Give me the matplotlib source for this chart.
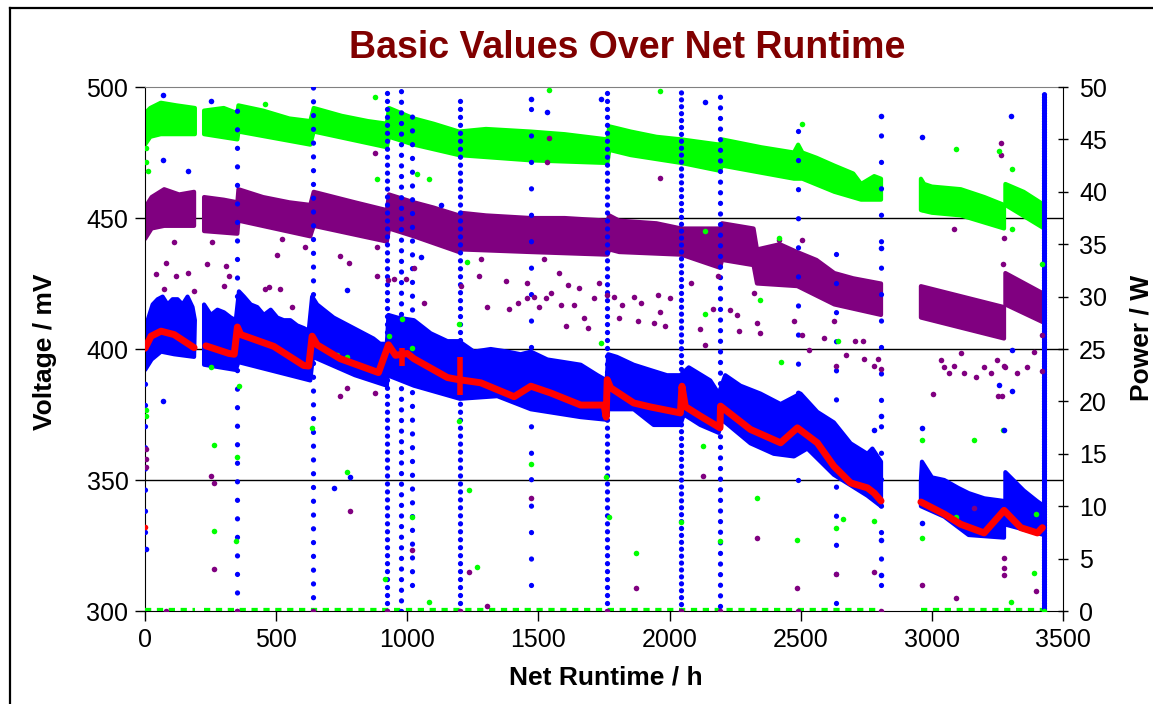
import matplotlib.pyplot as plt
from matplotlib.lines import Line2D

plt.rcParams['font.family'] = ['Liberation Sans', 'DejaVu Sans']

# Voltage clouds per running segment, outlined by their upper and lower edge (hours, mV)
green_top_t = [[0, 20, 60, 120, 190],
               [225, 300, 352, 356, 450, 550, 630, 643, 750, 850, 922, 930, 1025, 1100, 1197,
                1300, 1471, 1600, 1763, 1770, 1852, 1950, 2045, 2192, 2200, 2350, 2474, 2490,
                2506, 2560, 2628, 2700, 2730, 2780, 2806],
               [2958, 2970, 3000, 3110, 3200, 3275],
               [3280, 3350, 3428]]
green_top_v = [[490, 492, 494, 493, 492],
               [491, 492, 490, 493, 491, 488, 487, 492, 489, 487, 486, 492, 488, 486, 483,
                484, 483, 482, 480, 485, 483, 481, 480, 478, 480, 477, 475, 478,
                475, 473, 470, 467, 463, 466, 465],
               [465, 463, 462, 461, 458, 455],
               [463, 460, 455]]
green_bot_t = [[0, 20, 60, 190],
               [225, 352, 356, 630, 643, 922, 930, 1025, 1197, 1471, 1763, 1770, 1852, 2045,
                2192, 2200, 2474, 2506, 2628, 2730, 2806],
               [2958, 3000, 3110, 3275],
               [3280, 3428]]
green_bot_v = [[478, 481, 482, 482],
               [482, 480, 483, 478, 483, 477, 481, 478, 474, 472, 471, 476, 474, 471,
                468, 470, 465, 465, 460, 457, 457],
               [453, 452, 451, 446],
               [455, 446]]

purple_top_t = [[0, 25, 73, 130, 187],
                [225, 300, 352, 356, 450, 550, 630, 643, 800, 922, 930, 1025, 1100, 1197,
                 1204, 1300, 1471, 1600, 1763, 1770, 1808, 1950, 2045, 2192, 2200, 2320,
                 2333, 2420, 2487, 2560, 2628, 2700, 2806],
                [2958, 3275],
                [3280, 3428]]
purple_top_v = [[454, 458, 461, 459, 460],
                [458, 457, 456, 461, 458, 456, 455, 460, 456, 453, 459, 456, 454, 451,
                 452, 451, 450, 450, 449, 451, 449, 448, 446, 446, 448, 446,
                 438, 440, 437, 434, 429, 427, 425],
                [424, 416],
                [429, 421]]
purple_bot_t = [[0, 25, 73, 187],
                [225, 352, 356, 630, 643, 922, 930, 1025, 1197, 1204, 1471, 1763, 1770, 1808,
                 2045, 2192, 2200, 2320, 2333, 2487, 2628, 2806],
                [2958, 3275],
                [3280, 3428]]
purple_bot_v = [[442, 446, 447, 447],
                [445, 444, 449, 443, 447, 441, 446, 443, 437, 438, 437, 436, 438, 437,
                 436, 431, 434, 432, 425, 424, 417, 413],
                [412, 404],
                [417, 410]]

blue_top_t = [[0, 10, 29, 48, 67, 86, 105, 124, 143, 162, 181, 190],
              [225, 251, 276, 301, 327, 346, 358, 377, 403, 428, 453, 479, 504, 529, 554,
               580, 605, 624, 637, 656, 681, 719, 757, 795, 833, 871, 896, 922, 928, 962,
               1025, 1089, 1153, 1197, 1254, 1318, 1382, 1432, 1471, 1534, 1598, 1661,
               1725, 1760, 1766, 1799, 1863, 1926, 1990, 2041, 2073, 2155, 2187, 2212,
               2270, 2346, 2423, 2499, 2563, 2626, 2690, 2754, 2773, 2806],
              [2958, 2962, 3000, 3047, 3100, 3140, 3200, 3275],
              [3280, 3300, 3350, 3400, 3428]]
blue_top_v = [[408, 411, 417, 419, 420, 417, 419, 419, 417, 420, 416, 411],
              [417, 413, 415, 414, 412, 411, 422, 420, 417, 416, 413, 415, 412, 411, 411,
               409, 408, 407, 420, 417, 415, 412, 410, 408, 406, 404, 402, 402, 413, 412,
               411, 406, 403, 403, 399, 400, 399, 398, 399, 396, 395, 394,
               390, 388, 398, 397, 394, 392, 390, 390, 393, 388, 383, 390,
               386, 383, 379, 383, 376, 372, 364, 360, 362, 357],
              [350, 357, 351, 350, 347, 345, 343, 342],
              [353, 351, 346, 342, 340]]
blue_bot_t = [[0, 25, 61, 111, 187],
              [225, 346, 356, 630, 640, 800, 922, 924, 1025, 1200, 1343, 1471, 1661, 1760,
               1766, 1863, 1939, 2041, 2054, 2117, 2187, 2200, 2308, 2397, 2474, 2525,
               2626, 2690, 2754, 2806],
              [2958, 3047, 3140, 3275],
              [3280, 3428]]
blue_bot_v = [[392, 396, 399, 398, 397],
              [394, 392, 395, 388, 397, 390, 386, 390, 386, 381, 382, 377, 374, 373,
               377, 377, 371, 371, 375, 371, 368, 373, 364, 360, 359, 362,
               352, 348, 344, 340],
              [340, 336, 329, 328],
              [333, 329]]

# Mean voltage (red line)
red_t = [[0, 23, 61, 111, 187],
         [232, 320, 340, 352, 365, 491, 605, 624, 637, 656, 744, 890, 928, 955, 1000,
          1025, 1153, 1190, 1280, 1407, 1471, 1547, 1661, 1750, 1758, 1762, 1775, 1863,
          1926, 2041, 2047, 2060, 2117, 2192, 2194, 2308, 2423, 2487, 2563, 2626, 2690,
          2754, 2780, 2806],
         [2958, 3047, 3110, 3199, 3275, 3339, 3402, 3421]]
red_v = [[400.3, 404.9, 406.8, 405.5, 400.5],
         [401.2, 398.3, 398.0, 408.4, 405.5, 401.0, 393.7, 393.5, 404.9, 401.6, 396.3,
          391.0, 401.6, 397.6, 398.3, 396.3, 389.1, 388.4, 387.1, 381.8, 385.8, 383.2,
          378.6, 378.6, 374.0, 388.3, 385.2, 379.4, 377.9, 375.6, 385.8, 378.0, 374.4,
          369.9, 378.2, 369.3, 364.2, 369.9, 364.2, 355.3, 348.9, 347.0, 345.0, 342.0],
         [341.6, 337.0, 333.1, 329.8, 338.4, 331.8, 329.8, 331.8]]
red_spike_t = [981, 1200]
red_spike_lo = [393.7, 382.5]
red_spike_hi = [400.3, 397.0]

# Restart events: columns of blue readings
event_t = [0, 352, 640, 922, 975, 1019, 1200, 1471, 1763, 2045, 2192, 2490, 2634, 2806, 3428]
event_lo = [330, 300, 300, 300, 300, 310, 300, 310, 300, 300, 302, 350, 303, 310, 300]
event_hi = [392, 497, 500, 500, 500, 492, 495, 496, 500, 500, 500, 490, 443, 490, 498]

# Zero-power readings along the bottom
zero_start = [0, 225, 2958]
zero_end = [190, 2806, 3428]

purple_out_t = [111, 80, 42, 162, 118, 73, 187, 238, 308, 320, 301, 257, 459, 471, 516, 560,
                504, 523, 611, 744, 776, 744, 769, 877, 884, 877, 884, 928, 250, 263, 263,
                782, 949, 994, 1025, 1064, 1204, 1273, 1280, 1305, 1375, 1388, 1420, 1458,
                1458, 1483, 1502, 1522, 1528, 1547, 1579, 1585, 1611, 1636, 1655, 1674,
                1687, 1712, 1731, 1763, 1789, 1808, 1604, 1541, 1534, 1471, 1019, 1235,
                1305, 1962, 1865, 1820, 1891, 1955, 2000, 1878, 1942, 1981, 1962, 2083,
                2115, 2135, 2167, 2186, 2231, 2256, 2263, 2320, 2333, 2346, 2417, 2506,
                2474, 2506, 2590, 2628, 2634, 2673, 2705, 2737, 2532, 2128, 2333, 1872,
                2487, 2634, 2742, 2793, 2780, 2806, 2780, 3085, 3034, 3047, 3066, 3085,
                3110, 3123, 3168, 3199, 3224, 3250, 3275, 3253, 3267, 3280, 3326, 3364,
                3389, 3421, 3421, 3003, 2964, 3091, 3263, 3263, 3270, 3275, 3275, 3275,
                3275, 3396, 3161, 4, 4, 4, 352, 640, 922, 1200, 1763, 2045, 2192, 2490,
                2806, 80]
purple_out_v = [441, 433, 428.5, 429, 428, 423, 422, 432.5, 431.8, 428, 424, 441, 423,
                423.7, 423, 416, 436, 442, 438.8, 435.5, 432.9, 382, 385, 383.3, 428, 475,
                438.8, 426.3, 351.6, 349, 316, 338, 426.6, 426.6, 431, 417.4, 424, 428,
                434.5, 416, 426, 415.4, 417.4, 425.3, 419.3, 420, 416, 434.5, 419.3, 421.3,
                429.2, 416.7, 424.6, 416.7, 423.3, 412, 408.2, 419.3, 425.3, 420.7, 420,
                412, 408.8, 480.5, 471.3, 343, 323.3, 314.7, 302, 465.4, 420, 416.7, 417.4,
                420.7, 419.3, 410.8, 410, 408.8, 414, 425.3, 407.5, 401.6, 415.4, 427.9,
                414.7, 412.8, 406.8, 421.3, 410, 406.2, 441.7, 441.7, 410.8, 405.5, 404.2,
                410.8, 393.7, 397.6, 402.9, 402.9, 399.6, 351.6, 327.9, 308.8, 308.8, 314,
                396, 396, 393.7, 392.4, 315, 445.7, 395.7, 393, 391, 393.7, 398.3, 391,
                389.5, 393, 391, 395.7, 393.7, 382.2, 382.2, 393, 391, 393, 399, 391.7,
                405.3, 383, 310, 305, 474, 478.6, 432.6, 442.4, 320.4, 316.4, 313.7, 307.8,
                339.5, 362, 358, 355, 300, 300, 300, 300, 300, 300, 300, 300, 300, 300]

green_out_t = [4, 4, 10, 251, 263, 263, 459, 877, 884, 732, 769, 769, 636, 358, 352, 345, 4,
               4, 915, 1541, 1038, 1083, 981, 1019, 930, 1197, 1229, 1197, 1235, 1019,
               1267, 1083, 1471, 1738, 1757, 1770, 1962, 2506, 2135, 2417, 2135, 2423,
               2346, 2128, 2333, 2487, 2660, 2634, 1872, 2045, 2192, 2641, 3091, 3256,
               3307, 3307, 3421, 2964, 2964, 3161, 2780, 3270, 3396, 3389, 3301, 3091,
               2964, 3428]
green_out_v = [476.6, 471.3, 468, 393, 363.4, 330.5, 493.7, 496.3, 464.7, 397.6, 397, 353,
               370, 385.8, 358.8, 326.7, 376.6, 374.6, 312.4, 498.9, 466.7, 464.7, 411.4,
               400.3, 405, 409.5, 433.2, 372.6, 346.3, 335.8, 316.7, 303.6, 356.2, 402.2,
               351, 335.8, 498.3, 485.8, 445, 442.4, 413.4, 395, 418.7, 362.8, 343, 327.2,
               335, 331.8, 322, 333.8, 326.7, 402.9, 476.3, 475.7, 468.7, 445.7, 432.5,
               365.1, 327.9, 365.1, 334.5, 369.1, 337.1, 314.5, 303.4, 335.8, 453.3, 300]

blue_out_t = [162, 67, 250, 67, 67, 4, 719, 782, 769, 1534, 1471, 1127, 1051, 1738, 2135,
              2806, 2964, 2806, 3301, 3307, 3307, 3256, 3275, 2780, 2806, 2806, 2806, 2964,
              2964]
blue_out_v = [468, 472, 494.6, 497, 380, 323.6, 347, 351, 422.6, 490.4, 495.6, 454.9, 435,
              495.6, 494.3, 488.8, 481, 438.4, 488.8, 399.6, 383.8, 386.4, 369.1, 369.1,
              374.5, 327, 313.8, 369.7, 333.6]

red_out_t = [0]
red_out_v = [332]

GREEN = '#00ff00'
PURPLE = '#800080'
BLUE = '#0000ff'
RED = '#ff0000'
DOT = 16

fig = plt.figure(figsize=(11.53, 7.04), dpi=100)
ax = fig.add_axes([0.1258, 0.1321, 0.7962, 0.7443])

# scatter clouds drawn as outlined areas between their edges
clouds = [(green_top_t, green_top_v, green_bot_t, green_bot_v, GREEN),
          (purple_top_t, purple_top_v, purple_bot_t, purple_bot_v, PURPLE),
          (blue_top_t, blue_top_v, blue_bot_t, blue_bot_v, BLUE)]
for tt, tv, bt, bv, c in clouds:
    for t1, v1, t2, v2 in zip(tt, tv, bt, bv):
        ax.fill(t1 + t2[::-1], v1 + v2[::-1], color=c, lw=3, joinstyle='round', zorder=2)

ax.hlines([300] * len(zero_start), zero_start, zero_end, colors=GREEN, lw=4.5,
          linestyles=(0, (1.0, 0.9)), zorder=3)

# columns of readings at restarts
col_gap = [4, 3.5, 2.6, 1.5, 2.0, 2.6, 1.5, 5, 1.5, 1.3, 2.0, 5.5, 5.5, 5, 0.5]
for t, lo, hi, gap in zip(event_t, event_lo, event_hi, col_gap):
    ax.plot([t, t], [lo, hi], color=BLUE, lw=3.8, dash_capstyle='round',
            linestyle=(0, (0.01, gap)), zorder=3)

ax.scatter(purple_out_t, purple_out_v, s=DOT, color=PURPLE, lw=0, zorder=4)
ax.scatter(green_out_t, green_out_v, s=DOT, color=GREEN, lw=0, zorder=4)
ax.scatter(blue_out_t, blue_out_v, s=DOT, color=BLUE, lw=0, zorder=4)
ax.scatter(red_out_t, red_out_v, s=DOT, color=RED, lw=0, zorder=4)

for t, v in zip(red_t, red_v):
    ax.plot(t, v, color=RED, lw=5, solid_capstyle='round', solid_joinstyle='round', zorder=5)
ax.vlines(red_spike_t, red_spike_lo, red_spike_hi, colors=RED, lw=4, zorder=5)

for y in [350, 400, 450]:
    ax.axhline(y, color='black', lw=1, zorder=1)

ax.set_xlim(0, 3500)
ax.set_ylim(300, 500)
ax.set_xticks(range(0, 3501, 500))
ax.set_yticks(range(300, 501, 50))
ax.tick_params(labelsize=18, length=7, width=1, direction='out', pad=5)
ax.spines['top'].set_color('#808080')
ax.spines['right'].set_visible(False)

ax2 = ax.twinx()
ax2.set_ylim(0, 50)
ax2.set_yticks(range(0, 51, 5))
ax2.tick_params(labelsize=18, length=7, width=1, direction='inout', pad=8)
ax2.spines['top'].set_visible(False)
for side in ['left', 'bottom']:
    ax2.spines[side].set_visible(False)

fig.text(0.544, 0.932, 'Basic Values Over Net Runtime', color='#800000', fontsize=27,
         fontweight='bold', ha='center', va='center')
fig.text(0.525, 0.037, 'Net Runtime / h', fontsize=19, fontweight='bold',
         ha='center', va='center')
fig.text(0.039, 0.50, 'Voltage / mV', fontsize=19, fontweight='bold', rotation=90,
         ha='center', va='center')
fig.text(0.990, 0.52, 'Power / W', fontsize=19, fontweight='bold', rotation=90,
         ha='center', va='center')

# outer chart frame
fig.add_artist(Line2D([0.0087, 0.0087], [0, 0.9886], color='black', lw=1.6))
fig.add_artist(Line2D([0.0087, 1.0], [0.9886, 0.9886], color='black', lw=1.6))

fig.savefig('out.png', dpi=100)
